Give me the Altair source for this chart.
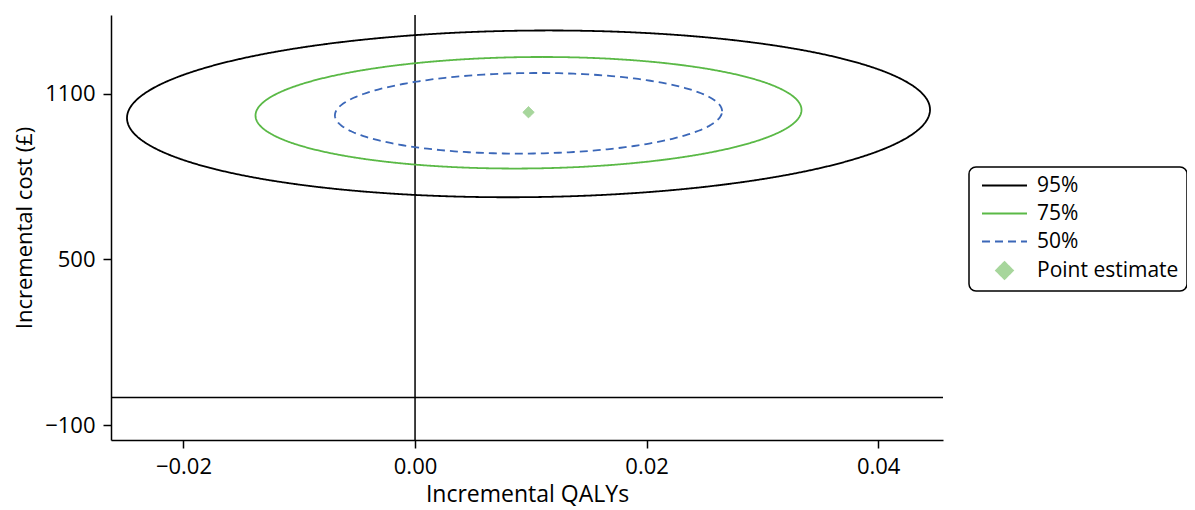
import altair as alt
import numpy as np
import pandas as pd

# ---- values ----
levels = ["95%", "75%", "50%"]
center_x = [0.0098, 0.0098, 0.0098]
center_y = [1027, 1031, 1029]
half_width_x = [0.03468, 0.02358, 0.01672]
half_height_y = [302, 202, 146]
tilt_rho = 0.05

point_label = ["Point estimate"]
point_x = [0.0098]
point_y = [1033]

x_ticks = [-0.02, 0.0, 0.02, 0.04]
y_ticks = [-100, 500, 1100]
x_domain = [-0.02626, 0.0456]
y_domain = [-154, 1385]
zero_x = [0.0]
zero_y = [0.0]

legend_domain = ["95%", "75%", "50%", "Point estimate"]
legend_colors = ["#000000", "#5ab946", "#3b67b8", "#a7d69c"]
legend_fills = ["transparent", "transparent", "transparent", "#a7d69c"]
legend_dashes = [[1, 0], [1, 0], [8, 5], [1, 0]]
line_path = "M-4.5,0H4.5"
diamond_path = "M-1.7,0L0,-1.7L1.7,0L0,1.7Z"
legend_shapes = [line_path, line_path, line_path, diamond_path]

# ---- build ellipse outlines ----
rows = []
t = np.linspace(0, 2 * np.pi, 241)
for lev, cx, cy, a, b in zip(levels, center_x, center_y, half_width_x, half_height_y):
    xs = cx + a * np.cos(t)
    ys = cy + b * (tilt_rho * np.cos(t) + np.sqrt(1 - tilt_rho ** 2) * np.sin(t))
    for i, (xv, yv) in enumerate(zip(xs, ys)):
        rows.append({"level": lev, "i": i, "x": xv, "y": yv})
ell_df = pd.DataFrame(rows)
pt_df = pd.DataFrame({"level": point_label, "x": point_x, "y": point_y})

FONT = "Open Sans"

xscale = alt.Scale(domain=x_domain, nice=False, zero=False)
yscale = alt.Scale(domain=y_domain, nice=False, zero=False)
xaxis = alt.Axis(values=x_ticks, format=".2f", title="Incremental QALYs", titlePadding=6)
yaxis = alt.Axis(values=y_ticks, format="d", title="Incremental cost (£)", titlePadding=8,
                 titleFontSize=22)

leg = alt.Legend(
    title=None,
    orient="none",
    legendX=858,
    legendY=152,
    strokeColor="#000000",
    cornerRadius=7,
    fillColor="#ffffff",
    padding=8,
    symbolSize=100,
    symbolOffset=17,
    labelOffset=22,
    symbolStrokeWidth=1.8,
    labelFontSize=21,
    labelFont=FONT,
    labelColor="#000000",
    rowPadding=6,
)

stroke_enc = alt.Stroke("level:N", scale=alt.Scale(domain=legend_domain, range=legend_colors), legend=leg)
dash_enc = alt.StrokeDash("level:N", scale=alt.Scale(domain=legend_domain, range=legend_dashes), legend=leg)
fill_enc = alt.Fill("level:N", scale=alt.Scale(domain=legend_domain, range=legend_fills), legend=leg)
shape_enc = alt.Shape("level:N", scale=alt.Scale(domain=legend_domain, range=legend_shapes), legend=leg)

vline = alt.Chart(pd.DataFrame({"x": zero_x})).mark_rule(color="black", strokeWidth=1.5).encode(
    x=alt.X("x:Q", scale=xscale, axis=xaxis)
)
hline = alt.Chart(pd.DataFrame({"y": zero_y})).mark_rule(color="black", strokeWidth=1.5).encode(
    y=alt.Y("y:Q", scale=yscale, axis=yaxis)
)

ellipses = alt.Chart(ell_df).mark_line(strokeWidth=1.8).encode(
    x=alt.X("x:Q", scale=xscale, axis=xaxis),
    y=alt.Y("y:Q", scale=yscale, axis=yaxis),
    stroke=stroke_enc,
    strokeDash=dash_enc,
    order=alt.Order("i:Q"),
)

point = alt.Chart(pt_df).mark_point(filled=True, size=45, opacity=1, strokeWidth=1).encode(
    x=alt.X("x:Q", scale=xscale, axis=xaxis),
    y=alt.Y("y:Q", scale=yscale, axis=yaxis),
    shape=shape_enc,
    fill=fill_enc,
    stroke=stroke_enc,
    strokeDash=dash_enc,
)

chart = alt.layer(vline, hline, ellipses, point).properties(
    width=832,
    height=425,
    autosize=alt.AutoSizeParams(type="none"),
    padding={"left": 103, "top": 7, "right": 244, "bottom": 68},
).configure_view(stroke=None).configure_axis(
    grid=False,
    labelFont=FONT,
    titleFont=FONT,
    labelFontSize=22,
    titleFontSize=23,
    titleFontWeight="normal",
    labelColor="#000000",
    titleColor="#000000",
    domainColor="#000000",
    tickColor="#000000",
    domainWidth=1.5,
    tickWidth=1.5,
    tickSize=8,
    labelPadding=8,
).configure_legend(strokeWidth=1.5)

chart.save("out.html", embed_options={"renderer": "svg", "actions": False})
